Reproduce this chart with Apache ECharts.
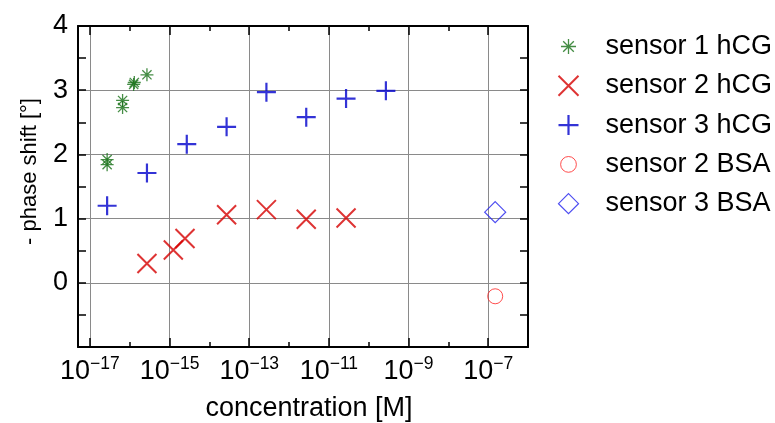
<!DOCTYPE html>
<html>
<head>
<meta charset="utf-8">
<script src="https://cdn.jsdelivr.net/npm/echarts@6/dist/echarts.min.js"></script>
<style>
  html, body { margin: 0; padding: 0; background: #fff; }
  #chart { width: 775px; height: 423px; }
</style>
</head>
<body>
<div id="chart"></div>
<script>
// Concentrations in mol/L and the measured negative phase shift in degrees
const sensor1HcgConc  = [2.7e-17, 2.7e-17, 6.6e-17, 6.6e-17, 1.25e-16, 1.3e-16, 2.7e-16];
const sensor1HcgShift = [1.92, 1.84, 2.84, 2.73, 3.09, 3.12, 3.24];

const sensor2HcgConc  = [2.7e-16, 1.24e-15, 2.44e-15, 2.7e-14, 2.7e-13, 2.7e-12, 2.7e-11];
const sensor2HcgShift = [0.30, 0.51, 0.69, 1.06, 1.14, 0.99, 1.01];

const sensor3HcgConc  = [2.7e-17, 2.7e-16, 2.7e-15, 2.7e-14, 2.7e-13, 2.7e-12, 2.7e-11, 2.7e-10];
const sensor3HcgShift = [1.20, 1.71, 2.16, 2.43, 2.97, 2.58, 2.87, 2.99];

const sensor2BsaConc  = [1.5e-7];
const sensor2BsaShift = [-0.21];

const sensor3BsaConc  = [1.5e-7];
const sensor3BsaShift = [1.10];

const seriesNames = ['sensor 1 hCG', 'sensor 2 hCG', 'sensor 3 hCG', 'sensor 2 BSA', 'sensor 3 BSA'];
const yTickLabels = ['0', '1', '2', '3', '4'];

const FONT = '"Liberation Sans", Arial, Helvetica, sans-serif';

// Stroke-only marker outlines
const PLUS = 'path://M0,-1L0,1M-1,0L1,0';
const CROSS = 'path://M-1,-1L1,1M-1,1L1,-1';
const STAR = 'path://M0,-1L0,1M-1,0L1,0M-0.7071,-0.7071L0.7071,0.7071M-0.7071,0.7071L0.7071,-0.7071';
// Legend variants with a wider empty frame so the glyph draws smaller in the key
const STAR_KEY = 'path://M-1.33,-1.33M1.33,1.33M0,-1L0,1M-1,0L1,0M-0.7071,-0.7071L0.7071,0.7071M-0.7071,0.7071L0.7071,-0.7071';
const CIRCLE_KEY = 'path://M-1.27,-1.27M1.27,1.27M1,0A1,1 0 1 1 -1,0A1,1 0 1 1 1,0Z';

// Log-concentration on the x axis
const toPoints = (conc, shift) => conc.map((c, i) => [Math.log10(c), shift[i]]);

const chart = echarts.init(document.getElementById('chart'), null, { renderer: 'canvas' });

const black = '#000';
const gridColor = '#8a8a8a';
const FS = 27;

const decadeAxisBase = {
  gridIndex: 0, type: 'value', min: -17.3, max: -6,
  splitNumber: 11, minInterval: 1, maxInterval: 1,
  axisLine: { show: true, onZero: false, lineStyle: { color: black, width: 2 } },
  axisTick: { show: true, inside: true, length: 5, lineStyle: { color: black, width: 1.5 } },
  axisLabel: { show: false },
  splitLine: { show: false }
};

const labelAxisBase = {
  gridIndex: 1, type: 'value', min: -17, max: -6, interval: 2,
  axisLine: { show: false, onZero: false },
  axisTick: { show: true, inside: true, length: 9, lineStyle: { color: black, width: 1.5 } }
};

const yBase = {
  gridIndex: 0, type: 'value', min: -1, max: 4, interval: 1,
  axisLine: { show: true, onZero: false, lineStyle: { color: black, width: 2 } },
  axisTick: { show: true, inside: true, length: 8, lineStyle: { color: black, width: 1.5 } },
  minorTick: { show: true, splitNumber: 2, length: 8, lineStyle: { color: black, width: 1.5 } }
};

function expLabel(v) {
  const e = Math.round(v);
  if (Math.abs(v - e) > 1e-6 || e % 2 === 0) return '';
  return '{b|10}{s|\u2212' + (-e) + '}';
}

const option = {
  animation: false,
  backgroundColor: '#fff',
  textStyle: { fontFamily: FONT },
  grid: [
    { left: 78, right: 247, top: 26, bottom: 76, outerBoundsMode: 'none' },
    { left: 89.95, right: 247, top: 26, bottom: 76, outerBoundsMode: 'none' }
  ],
  xAxis: [
    Object.assign({}, decadeAxisBase, { position: 'bottom' }),
    Object.assign({}, decadeAxisBase, { position: 'top' }),
    Object.assign({}, labelAxisBase, {
      position: 'bottom',
      splitLine: { show: true, lineStyle: { color: gridColor, width: 1 } },
      axisLabel: {
        show: true, margin: 8, formatter: expLabel,
        rich: {
          b: { fontSize: FS, lineHeight: 30, color: black, fontFamily: FONT, verticalAlign: 'bottom' },
          s: { fontSize: 17.5, lineHeight: 17, color: black, fontFamily: FONT, verticalAlign: 'top' }
        }
      },
      name: 'concentration [M]', nameLocation: 'middle', nameGap: 48,
      nameTextStyle: { fontSize: FS, color: black, fontFamily: FONT }
    }),
    Object.assign({}, labelAxisBase, {
      position: 'top',
      splitLine: { show: false },
      axisLabel: { show: false }
    })
  ],
  yAxis: [
    Object.assign({}, yBase, {
      position: 'left',
      splitLine: { show: true, lineStyle: { color: gridColor, width: 1 } },
      axisLabel: {
        show: true, margin: 10, fontSize: FS, color: black, fontFamily: FONT,
        formatter: v => (yTickLabels.indexOf(String(v)) >= 0 ? String(v) : '')
      },
      name: '- phase shift [\u00B0]', nameLocation: 'middle', nameGap: 37,
      nameTextStyle: { fontSize: 22, color: black, fontFamily: FONT, padding: [0, 0, 0, 30] }
    }),
    Object.assign({}, yBase, {
      position: 'right',
      splitLine: { show: false },
      axisLabel: { show: false }
    }),
    { gridIndex: 1, type: 'value', min: -1, max: 4, show: false }
  ],
  legend: {
    orient: 'vertical', left: 556, top: 33, padding: 0,
    itemWidth: 20, itemHeight: 20, itemGap: 12.3,
    selectedMode: false,
    textStyle: { fontSize: FS, color: black, fontFamily: FONT, lineHeight: 20, padding: [0, 0, 0, 22] },
    data: [
      { name: seriesNames[0], icon: STAR_KEY, itemStyle: { borderWidth: 1.3 } },
      { name: seriesNames[1], itemStyle: { borderWidth: 2 } },
      { name: seriesNames[2], itemStyle: { borderWidth: 2.2 } },
      { name: seriesNames[3], icon: CIRCLE_KEY, itemStyle: { borderWidth: 1 } },
      { name: seriesNames[4], itemStyle: { borderWidth: 1.2 } }
    ]
  },
  series: [
    {
      name: seriesNames[0], type: 'scatter', xAxisIndex: 0, yAxisIndex: 0,
      symbol: STAR, symbolSize: 13,
      itemStyle: { color: 'none', borderColor: '#167016', borderWidth: 1.3 },
      emphasis: { disabled: true },
      data: toPoints(sensor1HcgConc, sensor1HcgShift)
    },
    {
      name: seriesNames[1], type: 'scatter', xAxisIndex: 0, yAxisIndex: 0,
      symbol: CROSS, symbolSize: 19,
      itemStyle: { color: 'none', borderColor: '#d60000', borderWidth: 2 },
      emphasis: { disabled: true },
      data: toPoints(sensor2HcgConc, sensor2HcgShift)
    },
    {
      name: seriesNames[2], type: 'scatter', xAxisIndex: 0, yAxisIndex: 0,
      symbol: PLUS, symbolSize: 19,
      itemStyle: { color: 'none', borderColor: '#0000cc', borderWidth: 2.2 },
      emphasis: { disabled: true },
      data: toPoints(sensor3HcgConc, sensor3HcgShift)
    },
    {
      name: seriesNames[3], type: 'scatter', xAxisIndex: 0, yAxisIndex: 0,
      symbol: 'circle', symbolSize: 15,
      itemStyle: { color: 'none', borderColor: '#ff2020', borderWidth: 1 },
      emphasis: { disabled: true },
      data: toPoints(sensor2BsaConc, sensor2BsaShift)
    },
    {
      name: seriesNames[4], type: 'scatter', xAxisIndex: 0, yAxisIndex: 0,
      symbol: 'diamond', symbolSize: 21,
      itemStyle: { color: 'none', borderColor: '#2020ee', borderWidth: 1.2 },
      emphasis: { disabled: true },
      data: toPoints(sensor3BsaConc, sensor3BsaShift)
    }
  ]
};

chart.setOption(option);
</script>
</body>
</html>
